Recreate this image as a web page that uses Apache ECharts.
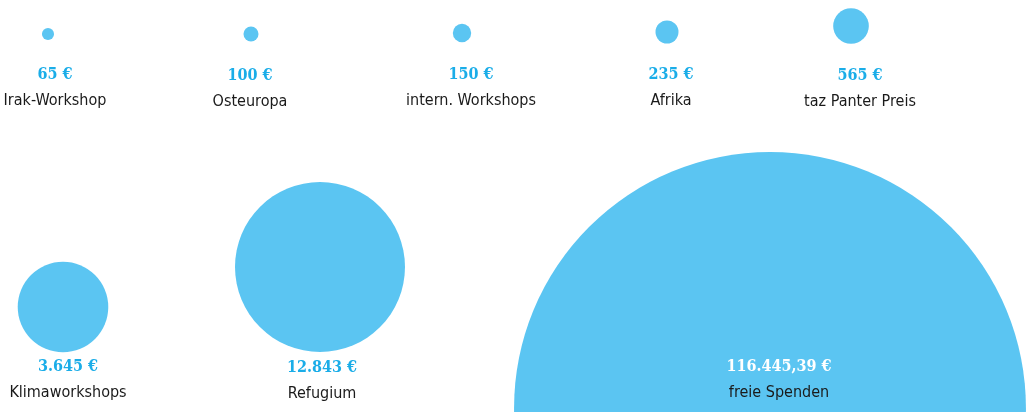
<!DOCTYPE html>
<html>
<head>
<meta charset="utf-8">
<script src="https://cdn.jsdelivr.net/npm/echarts@6/dist/echarts.min.js"></script>
<style>
    html, body { margin: 0; padding: 0; background: #fff; }
    #chart { width: 1026px; height: 412px; }
</style>
</head>
<body>
<div id="chart"></div>
<script>
// Spendenverteilung
var categories = ['Irak-Workshop', 'Osteuropa', 'intern. Workshops', 'Afrika', 'taz Panter Preis', 'Klimaworkshops', 'Refugium', 'freie Spenden'];
var values = [65, 100, 150, 235, 565, 3645, 12843, 116445.39];

// Layout (Pixel): Kreismittelpunkt und Mitte des Textblocks
var centers = [[48, 34], [251, 34], [462, 33], [667, 32], [851, 26], [63, 307], [320, 267], [770, 408]];
var labelAnchors = [[55, 88], [250, 89], [471, 88], [671, 88], [860, 89], [68, 380], [322, 381], [779, 380]];

/**
 * Zahl im deutschen Format mit Euro-Zeichen
 */
function formatEuro(v) {
    var parts = v.toFixed(2).split('.');
    var intPart = parts[0].replace(/\B(?=(\d{3})+(?!\d))/g, '.');
    var dec = parts[1] === '00' ? '' : ',' + parts[1];
    return intPart + dec + ' €';
}

var chartDom = document.getElementById('chart');
var myChart = echarts.init(chartDom, null, {renderer: 'canvas'});

var nameFont = "'Liberation Sans Narrow', 'DejaVu Sans Condensed', sans-serif";
var valueFont = "'DejaVu Serif Condensed', 'DejaVu Serif', serif";

var data = categories.map(function (name, i) {
    var isBig = i === categories.length - 1;
    return {
        name: name,
        value: [centers[i][0], centers[i][1], values[i]],
        label: {
            offset: [labelAnchors[i][0] - centers[i][0], labelAnchors[i][1] - centers[i][1]],
            rich: {
                v: {
                    fontFamily: valueFont,
                    fontWeight: 'bold',
                    fontSize: 16,
                    lineHeight: 26,
                    color: isBig ? '#ffffff' : '#1aade8'
                },
                n: {
                    fontFamily: nameFont,
                    fontSize: 16,
                    lineHeight: 26,
                    color: '#1a1a1a'
                }
            }
        }
    };
});

var option = {
    animation: false,
    grid: {left: 0, right: 0, top: 0, bottom: 0},
    xAxis: {type: 'value', min: 0, max: 1026, show: false},
    yAxis: {type: 'value', min: 0, max: 412, inverse: true, show: false},
    series: [{
        type: 'scatter',
        clip: false,
        data: data,
        symbolSize: function (val) {
            // Fläche proportional zum Betrag
            return 1.5 * Math.sqrt(val[2]);
        },
        itemStyle: {color: '#5bc5f2', opacity: 1},
        label: {
            show: true,
            position: 'inside',
            formatter: function (p) {
                return '{v|' + formatEuro(p.value[2]) + '}\n{n|' + p.name + '}';
            }
        },
        emphasis: {disabled: true}
    }]
};

myChart.setOption(option, true);
window.addEventListener('resize', function () {
    myChart.resize();
});
</script>
</body>
</html>
